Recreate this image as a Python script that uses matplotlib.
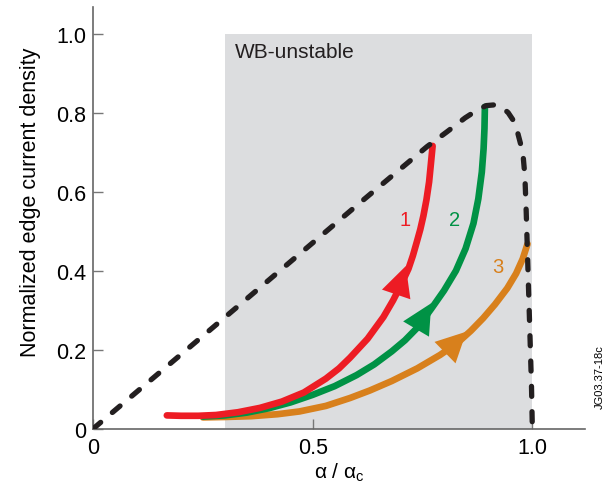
import matplotlib
matplotlib.use("Agg")
import matplotlib.pyplot as plt
from matplotlib.patches import Rectangle

plt.rcParams['font.family'] = ['Liberation Sans', 'DejaVu Sans']
plt.rcParams['mathtext.fontset'] = 'custom'
plt.rcParams['mathtext.rm'] = 'Liberation Sans'

# Boundary (black dashed)
bound_x = [0, 0.3, 0.6, 0.76, 0.806, 0.847, 0.875, 0.895, 0.915, 0.932, 0.945, 0.957,
           0.966, 0.973, 0.979, 0.983, 0.986, 0.989, 0.992, 0.995, 0.998, 1.0]
bound_y = [0, 0.282, 0.565, 0.714, 0.752, 0.787, 0.807, 0.818, 0.820, 0.813, 0.800, 0.780,
           0.752, 0.722, 0.691, 0.640, 0.550, 0.440, 0.330, 0.220, 0.110, 0.0]

red_x = [0.168, 0.20, 0.24, 0.28, 0.33, 0.38, 0.43, 0.48, 0.53, 0.56, 0.585, 0.625, 0.661,
         0.683, 0.70, 0.718, 0.728, 0.737, 0.745, 0.752, 0.759, 0.765, 0.769, 0.773]
red_y = [0.034, 0.033, 0.033, 0.035, 0.042, 0.053, 0.069, 0.092, 0.127, 0.153, 0.180, 0.228, 0.283,
         0.325, 0.362, 0.405, 0.438, 0.473, 0.505, 0.539, 0.580, 0.625, 0.670, 0.716]

green_x = [0.25, 0.30, 0.35, 0.40, 0.45, 0.50, 0.55, 0.60, 0.64, 0.68, 0.71, 0.74, 0.77,
           0.799, 0.826, 0.848, 0.866, 0.877, 0.885, 0.889, 0.891, 0.892]
green_y = [0.031, 0.034, 0.041, 0.052, 0.067, 0.086, 0.108, 0.136, 0.163, 0.196, 0.224, 0.258, 0.304,
           0.350, 0.400, 0.456, 0.520, 0.582, 0.650, 0.709, 0.760, 0.815]

orange_x = [0.25, 0.30, 0.36, 0.42, 0.47, 0.53, 0.585, 0.63, 0.68, 0.738, 0.79, 0.829, 0.86,
            0.888, 0.915, 0.943, 0.963, 0.978, 0.989]
orange_y = [0.029, 0.030, 0.032, 0.037, 0.044, 0.058, 0.078, 0.097, 0.121, 0.153, 0.187, 0.217, 0.248,
            0.280, 0.315, 0.356, 0.393, 0.430, 0.468]

# arrow (tail, tip) for each path
red_arrow = [(0.69, 0.34), (0.712, 0.412)]
green_arrow = [(0.735, 0.252), (0.77, 0.318)]
orange_arrow = [(0.805, 0.197), (0.85, 0.246)]

x_ticks = [0, 0.5, 1.0]
x_ticklabels = ['0', '0.5', '1.0']
y_ticks = [0, 0.2, 0.4, 0.6, 0.8, 1.0]
y_ticklabels = ['0', '0.2', '0.4', '0.6', '0.8', '1.0']

RED = '#ED1C24'
GREEN = '#009245'
ORANGE = '#D8801C'
BLACK = '#231F20'

fig = plt.figure(figsize=(6.12, 4.89), dpi=100)
ax = fig.add_axes([0.152, 0.121, 0.804, 0.863])
ax.set_xlim(0, 1.12)
ax.set_ylim(0, 1.068)

ax.add_patch(Rectangle((0.3, 0), 0.7, 1.0, facecolor='#DCDDDF', edgecolor='none', zorder=0))
ax.text(0.323, 0.955, 'WB-unstable', fontsize=15, va='center', ha='left', color='#231F20')

lw = 4.8
ax.plot(orange_x, orange_y, color=ORANGE, lw=lw, solid_capstyle='round', solid_joinstyle='round', zorder=2)
ax.plot(green_x, green_y, color=GREEN, lw=lw, solid_capstyle='round', solid_joinstyle='round', zorder=3)
ax.plot(red_x, red_y, color=RED, lw=lw, solid_capstyle='round', solid_joinstyle='round', zorder=4)

for arr, col in [(red_arrow, RED), (green_arrow, GREEN), (orange_arrow, ORANGE)]:
    ax.annotate('', xy=arr[1], xytext=arr[0],
                arrowprops=dict(arrowstyle='-|>,head_length=0.9,head_width=0.45', color=col,
                                lw=0, shrinkA=0, shrinkB=0, mutation_scale=24),
                zorder=5)

ax.plot(bound_x, bound_y, color=BLACK, lw=3.8, dashes=(1.9, 2.9), dash_capstyle='round', zorder=6)

ax.text(0.71, 0.53, '1', color=RED, fontsize=14.5, ha='center', va='center')
ax.text(0.822, 0.53, '2', color=GREEN, fontsize=14.5, ha='center', va='center')
ax.text(0.922, 0.41, '3', color=ORANGE, fontsize=14.5, ha='center', va='center')

ax.set_xticks(x_ticks)
ax.set_xticklabels(x_ticklabels)
ax.set_yticks(y_ticks)
ax.set_yticklabels(y_ticklabels)
ax.tick_params(direction='in', length=7, width=1, color='#777777', labelsize=15.5)
ax.tick_params(axis='x', pad=6)
ax.tick_params(axis='y', pad=5)
for s in ['top', 'right']:
    ax.spines[s].set_visible(False)
for s in ['left', 'bottom']:
    ax.spines[s].set_color('#666666')
    ax.spines[s].set_linewidth(1.2)

ax.set_ylabel('Normalized edge current density', fontsize=15.5)
ax.yaxis.set_label_coords(-0.105, 0.538)
ax.set_xlabel(r'α / α$_{\mathrm{c}}$', fontsize=15)
ax.xaxis.set_label_coords(0.5, -0.075)
ax.xaxis.label.set_va('top')

fig.text(0.980, 0.229, 'JG03.37-18c', rotation=90, fontsize=8, ha='center', va='center')

fig.savefig('out.png', dpi=100)
